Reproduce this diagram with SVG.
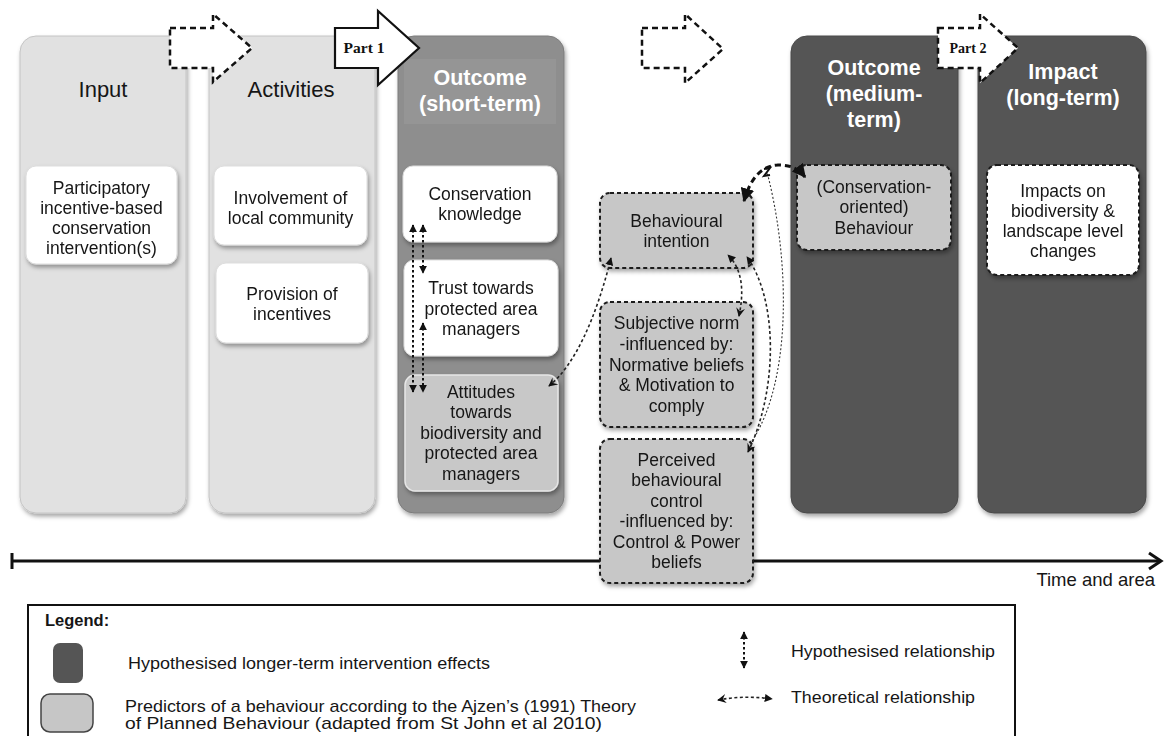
<svg xmlns="http://www.w3.org/2000/svg" width="1164" height="736" viewBox="0 0 1164 736">
<defs>
<style>
text{font-family:"Liberation Sans",Arial,sans-serif;fill:#161616;text-anchor:middle}
.t{font-size:17.5px}
.title{font-size:22px}
.wt{font-size:21.5px;font-weight:bold;fill:#fff}
.lg{font-size:17px;text-anchor:start}
.part{font-family:"Liberation Serif","Times New Roman",serif;font-weight:bold;fill:#111}
.colL{fill:#e1e1e1;stroke:#c4c4c4;stroke-width:1}
.colM{fill:#8e8e8e;stroke:#7c7c7c;stroke-width:1}
.colD{fill:#555;stroke:#4a4a4a;stroke-width:1}
.wbox{fill:#fff;stroke:#ddd;stroke-width:1}
.gbox{fill:#c7c7c7;stroke:#1a1a1a;stroke-width:2;stroke-dasharray:4 3}
.dbox{fill:#fff;stroke:#1a1a1a;stroke-width:2;stroke-dasharray:4 3}
.darr{fill:#fff;stroke:#111;stroke-width:2.5;stroke-dasharray:6 4}
.hyp{fill:none;stroke:#111;stroke-width:2;stroke-dasharray:2.5 2.5}
.theo{fill:none;stroke:#222;stroke-width:1.6;stroke-dasharray:3 2.5}
</style>
<filter id="sh" x="-20%" y="-20%" width="140%" height="140%">
<feDropShadow dx="1.5" dy="3" stdDeviation="2.2" flood-color="#000" flood-opacity="0.35"/>
</filter>
<marker id="tri" viewBox="0 0 10 10" refX="9" refY="5" markerWidth="8" markerHeight="8" markerUnits="userSpaceOnUse" orient="auto-start-reverse">
<path d="M0,0 L10,5 L0,10 z" fill="#111"/>
</marker>
<marker id="barb" viewBox="0 0 10 10" refX="9" refY="5" markerWidth="9" markerHeight="9" markerUnits="userSpaceOnUse" orient="auto-start-reverse">
<path d="M0,0 L10,5 L0,10 L3.5,5 z" fill="#111"/>
</marker>
<marker id="big" viewBox="0 0 10 10" refX="9" refY="5" markerWidth="14" markerHeight="14" markerUnits="userSpaceOnUse" orient="auto-start-reverse">
<path d="M0,0 L10,5 L0,10 z" fill="#111"/>
</marker>
</defs>
<rect width="1164" height="736" fill="#fff"/>

<!-- columns -->
<g id="col-input" filter="url(#sh)"><rect class="colL" x="20" y="36" width="166" height="477" rx="16"/></g>
<g id="col-activities" filter="url(#sh)"><rect class="colL" x="209" y="36" width="166" height="477" rx="16"/></g>
<g id="col-short" filter="url(#sh)"><rect class="colM" x="398" y="36" width="166" height="477" rx="16"/></g>
<g id="col-medium" filter="url(#sh)"><rect class="colD" x="791" y="36" width="167" height="477" rx="16"/></g>
<g id="col-impact" filter="url(#sh)"><rect class="colD" x="978" y="36" width="168" height="477" rx="16"/></g>

<rect x="404" y="59" width="152" height="65" fill="#959595"/>

<g id="titles">
<text class="title" x="103" y="97">Input</text>
<text class="title" x="291" y="97">Activities</text>
<text class="wt" x="480" y="85">Outcome</text>
<text class="wt" x="480" y="111">(short-term)</text>
<text class="wt" x="874" y="75">Outcome</text>
<text class="wt" x="874" y="101">(medium-</text>
<text class="wt" x="874" y="127">term)</text>
<text class="wt" x="1063" y="79">Impact</text>
<text class="wt" x="1063" y="105">(long-term)</text>
</g>

<!-- time axis -->
<g id="axis" stroke="#111" stroke-width="3" fill="none">
<line x1="12" y1="561" x2="1160" y2="561"/>
<line x1="12" y1="553" x2="12" y2="569"/>
<polyline points="1149,553 1161,561 1149,569"/>
</g>
<text x="1155" y="586" style="font-size:18.5px;text-anchor:end">Time and area</text>

<!-- block arrows -->
<g id="arrow-1"><polygon class="darr" points="170,28 213,28 213,14 252,48 213,82 213,68 170,68"/></g>
<g id="arrow-part1">
<polygon points="335,28 378,28 378,11 419,48 378,85 378,68 335,68" fill="#fff" stroke="#111" stroke-width="2.2"/>
<text class="part" x="364" y="53" style="font-size:15.5px">Part 1</text>
</g>
<g id="arrow-3"><polygon class="darr" points="642,28 685,28 685,14 723,49 685,83 685,68 642,68"/></g>
<g id="arrow-part2">
<polygon class="darr" points="938,28 980,28 980,14 1018,48 980,83 980,68 938,68"/>
<text class="part" x="968" y="53" style="font-size:14px">Part 2</text>
</g>

<!-- nodes -->
<g id="n-participatory" filter="url(#sh)">
<rect class="wbox" x="26" y="166" width="151" height="98" rx="10"/>
<text class="t" x="101.5" y="194">Participatory</text>
<text class="t" x="101.5" y="214">incentive-based</text>
<text class="t" x="101.5" y="234">conservation</text>
<text class="t" x="101.5" y="254">intervention(s)</text>
</g>
<g id="n-involvement" filter="url(#sh)">
<rect class="wbox" x="214" y="166" width="153" height="79" rx="10"/>
<text class="t" x="290.5" y="204">Involvement of</text>
<text class="t" x="290.5" y="224">local community</text>
</g>
<g id="n-provision" filter="url(#sh)">
<rect class="wbox" x="216" y="263" width="152" height="80" rx="10"/>
<text class="t" x="292" y="300">Provision of</text>
<text class="t" x="292" y="320">incentives</text>
</g>
<g id="n-knowledge" filter="url(#sh)">
<rect class="wbox" x="403" y="166" width="154" height="76" rx="10"/>
<text class="t" x="480" y="200">Conservation</text>
<text class="t" x="480" y="220">knowledge</text>
</g>
<g id="n-trust" filter="url(#sh)">
<rect class="wbox" x="404" y="260" width="154" height="96" rx="10"/>
<text class="t" x="481" y="294">Trust towards</text>
<text class="t" x="481" y="315">protected area</text>
<text class="t" x="481" y="335">managers</text>
</g>
<g id="n-attitudes" filter="url(#sh)">
<rect x="405" y="375" width="153" height="116" rx="10" fill="#c8c8c8" stroke="#e6e6e6" stroke-width="1.5"/>
<text class="t" x="481" y="398">Attitudes</text>
<text class="t" x="481" y="418">towards</text>
<text class="t" x="481" y="439">biodiversity and</text>
<text class="t" x="481" y="459">protected area</text>
<text class="t" x="481" y="480">managers</text>
</g>
<g id="n-intention" filter="url(#sh)">
<rect class="gbox" x="600" y="193" width="153" height="75" rx="10"/>
<text class="t" x="676.5" y="227">Behavioural</text>
<text class="t" x="676.5" y="247">intention</text>
</g>
<g id="n-norm" filter="url(#sh)">
<rect class="gbox" x="600" y="302" width="153" height="125" rx="10"/>
<text class="t" x="676.5" y="329">Subjective norm</text>
<text class="t" x="676.5" y="350">-influenced by:</text>
<text class="t" x="676.5" y="371">Normative beliefs</text>
<text class="t" x="676.5" y="391">&amp; Motivation to</text>
<text class="t" x="676.5" y="412">comply</text>
</g>
<g id="n-control" filter="url(#sh)">
<rect class="gbox" x="600" y="439" width="153" height="144" rx="10"/>
<text class="t" x="676.5" y="466">Perceived</text>
<text class="t" x="676.5" y="486">behavioural</text>
<text class="t" x="676.5" y="507">control</text>
<text class="t" x="676.5" y="527">-influenced by:</text>
<text class="t" x="676.5" y="548">Control &amp; Power</text>
<text class="t" x="676.5" y="568">beliefs</text>
</g>
<g id="n-behaviour" filter="url(#sh)">
<rect class="gbox" x="797" y="165" width="154" height="85" rx="10"/>
<text class="t" x="874" y="193">(Conservation-</text>
<text class="t" x="874" y="213">oriented)</text>
<text class="t" x="874" y="234">Behaviour</text>
</g>
<g id="n-impacts" filter="url(#sh)">
<rect class="dbox" x="987" y="165" width="152" height="110" rx="10"/>
<text class="t" x="1063" y="197">Impacts on</text>
<text class="t" x="1063" y="217">biodiversity &amp;</text>
<text class="t" x="1063" y="237">landscape level</text>
<text class="t" x="1063" y="257">changes</text>
</g>

<!-- connectors -->
<g id="connectors">
<path class="hyp" d="M413,225 L413,392" marker-start="url(#tri)" marker-end="url(#tri)"/>
<path class="hyp" d="M423,225 L423,273" marker-start="url(#tri)" marker-end="url(#tri)"/>
<path class="hyp" d="M423,323 L423,392" marker-start="url(#tri)" marker-end="url(#tri)"/>
<path class="theo" d="M549,386 C575,365 596,318 611,258" marker-start="url(#barb)" marker-end="url(#tri)"/>
<path class="theo" d="M739,316 C744,292 743,270 728,255" marker-start="url(#barb)" marker-end="url(#tri)"/>
<path class="theo" d="M748,452 C778,390 778,300 747,257" marker-start="url(#barb)" marker-end="url(#tri)"/>
<path d="M752,441 C792,380 790,260 767,172" fill="none" stroke="#333" stroke-width="1.1" stroke-dasharray="2 2"/>
<path d="M764,169 L770,168 L764,176 L770,175" fill="none" stroke="#111" stroke-width="2"/>
<path d="M744,201 C750,180 760,166 778,165 C790,165 798,168 805,177" fill="none" stroke="#111" stroke-width="3" stroke-dasharray="6 4" marker-start="url(#big)" marker-end="url(#big)"/>
</g>

<!-- legend -->
<g id="legend">
<rect x="28" y="605" width="987" height="140" fill="#fff" stroke="#111" stroke-width="2"/>
<text x="45" y="626" style="font-size:16.5px;font-weight:bold;text-anchor:start">Legend:</text>
<rect x="53" y="643" width="30" height="40" rx="7" fill="#555"/>
<text class="lg" x="128" y="669" textLength="362" lengthAdjust="spacingAndGlyphs">Hypothesised longer-term intervention effects</text>
<rect x="41" y="694" width="52" height="38" rx="9" fill="#c6c6c6" stroke="#444" stroke-width="1.5"/>
<text class="lg" x="125" y="712" textLength="511" lengthAdjust="spacingAndGlyphs">Predictors of a behaviour according to the Ajzen’s (1991) Theory</text>
<text class="lg" x="125" y="729" textLength="477" lengthAdjust="spacingAndGlyphs">of Planned Behaviour (adapted from St John et al 2010)</text>
<path class="hyp" d="M744,632 L744,668" marker-start="url(#tri)" marker-end="url(#tri)"/>
<text class="lg" x="791" y="657" textLength="204" lengthAdjust="spacingAndGlyphs">Hypothesised relationship</text>
<path class="theo" d="M718,700 Q745,695 772,699" marker-start="url(#barb)" marker-end="url(#tri)"/>
<text class="lg" x="791" y="703" textLength="184" lengthAdjust="spacingAndGlyphs">Theoretical relationship</text>
</g>
</svg>
